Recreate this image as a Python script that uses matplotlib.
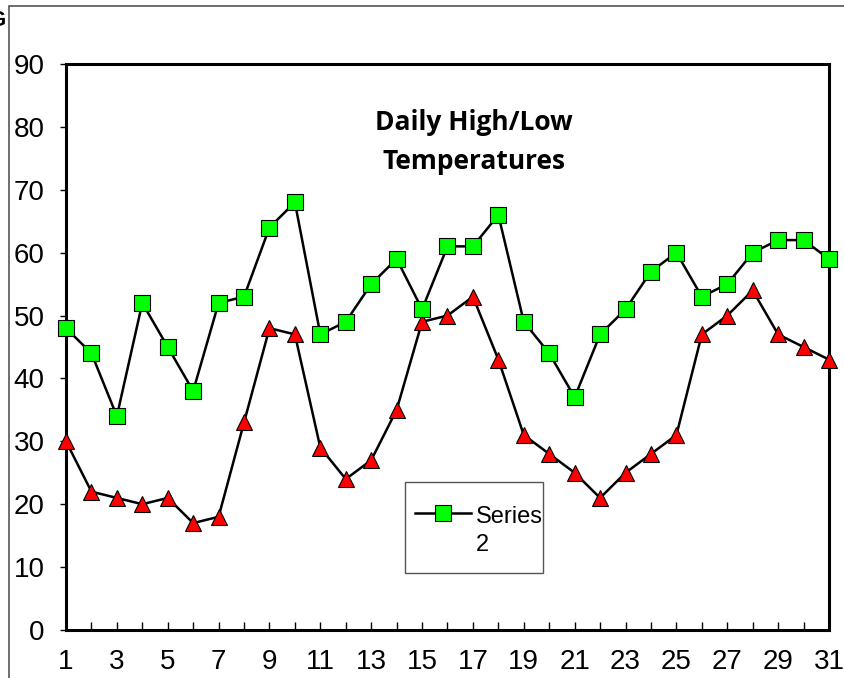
import matplotlib
matplotlib.use('Agg')
import matplotlib.pyplot as plt
from matplotlib.patches import Rectangle
from matplotlib.legend_handler import HandlerLine2D

days = list(range(1, 32))
high_temps = [48, 44, 34, 52, 45, 38, 52, 53, 64, 68, 47, 49, 55, 59, 51, 61,
              61, 66, 49, 44, 37, 47, 51, 57, 60, 53, 55, 60, 62, 62, 59]
low_temps = [30, 22, 21, 20, 21, 17, 18, 33, 48, 47, 29, 24, 27, 35, 49, 50,
             53, 43, 31, 28, 25, 21, 25, 28, 31, 47, 50, 54, 47, 45, 43]
y_ticks = list(range(0, 100, 10))
x_major = list(range(1, 32, 2))
x_minor = list(range(2, 32, 2))


class RaisedLineHandler(HandlerLine2D):
    # put the legend line level with the first text line, not the middle
    def create_artists(self, legend, orig_handle, xdescent, ydescent,
                       width, height, fontsize, trans):
        return super().create_artists(legend, orig_handle, xdescent,
                                      ydescent - 26, width, height,
                                      fontsize, trans)


plt.rcParams['font.family'] = ['Liberation Sans', 'DejaVu Sans']

fig = plt.figure(figsize=(8.45, 6.78), dpi=100)
ax = fig.add_axes([66 / 845, 1 - 630 / 678, (829 - 66) / 845, (630 - 64) / 678])

# outer chart-area border (cut off at right and bottom)
fig.add_artist(Rectangle((9 / 845, -0.1), 1.2, 1 - 6 / 678 + 0.1,
                         transform=fig.transFigure, fill=False,
                         edgecolor='#555555', lw=1.2))
fig.text(5 / 845, 1 - 21 / 678, 'G', ha='right', va='center',
         fontsize=16, fontweight='bold')

ax.plot(days, low_temps, color='black', lw=1.8, marker='^', markersize=11,
        markerfacecolor='#ff0000', markeredgecolor='black', markeredgewidth=0.8,
        clip_on=False, zorder=3)
high_line, = ax.plot(days, high_temps, color='black', lw=1.8, marker='s',
                     markersize=11, markerfacecolor='#00ff00',
                     markeredgecolor='black', markeredgewidth=0.8,
                     clip_on=False, zorder=4, label='Series\n2')

ax.set_xlim(1, 31)
ax.set_ylim(0, 90)
ax.set_yticks(y_ticks)
ax.set_xticks(x_major)
ax.set_xticks(x_minor, minor=True)

for sp in ax.spines.values():
    sp.set_linewidth(2.2)

ax.tick_params(axis='y', direction='out', length=4.5, width=1, pad=11,
               labelsize=20)
ax.tick_params(axis='x', which='both', direction='in', length=5.5, width=1,
               pad=14, labelsize=20)

ax.text(0.535, 0.862, 'Daily High/Low\nTemperatures', transform=ax.transAxes,
        ha='center', va='center', fontsize=19, fontweight='bold',
        family=['Open Sans', 'DejaVu Sans'], linespacing=1.55)

# legend box drawn separately so its padding matches the reference
ax.add_patch(Rectangle(((405 - 66) / 763, 1 - (573 - 64) / 566),
                       138 / 763, 91 / 566, transform=ax.transAxes,
                       fill=True, facecolor='white', edgecolor='#555555',
                       lw=1.0, zorder=5))
leg = ax.legend(loc='upper left',
                bbox_to_anchor=((397 - 66) / 763, 1 - (488 - 64) / 566),
                fontsize=17, frameon=False, handlelength=2.4,
                borderpad=0.75, handletextpad=0.2, borderaxespad=0,
                markerscale=1.0, handler_map={high_line: RaisedLineHandler()})
leg.set_zorder(6)
for t in leg.get_texts():
    t.set_linespacing(1.35)

fig.savefig('out.png', dpi=100)
